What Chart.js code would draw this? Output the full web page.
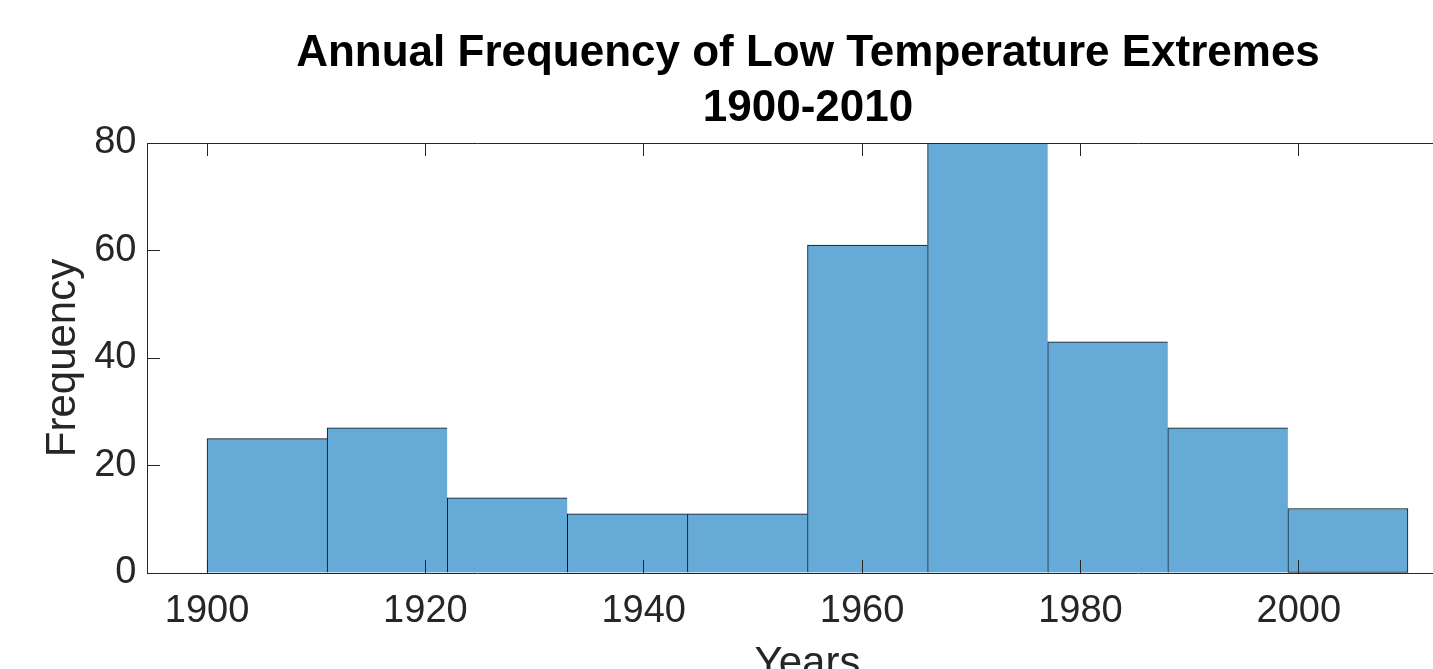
<!DOCTYPE html>
<html>
<head>
<meta charset="utf-8">
<title>Annual Frequency of Low Temperature Extremes</title>
<script src="https://cdn.jsdelivr.net/npm/chart.js@4.4.1/dist/chart.umd.min.js"></script>
<style>
  html, body { margin: 0; padding: 0; background: #fff; overflow: hidden; }
  #wrap { width: 1616px; height: 720px; }
</style>
</head>
<body>
<div id="wrap"><canvas id="hist"></canvas></div>
<script>
// histogram bins (left edges, 11-year bins) and counts
const binStarts = [1900, 1911, 1922, 1933, 1944, 1955, 1966, 1977, 1988, 1999];
const binWidth = 11;
const counts = [25, 27, 14, 11, 11, 61, 80, 43, 27, 12];

// axis ranges / ticks
const xRange = [1894.5, 2015.5];
const xTickStep = 20;
const yRange = [0, 80];
const yTickStep = 20;

const titleLines = ['Annual Frequency of Low Temperature Extremes', '1900-2010'];
const xLabel = 'Years';
const yLabel = 'Frequency';

const axisColor = '#262626';
const fontFamily = '"Liberation Sans", Arial, Helvetica, sans-serif';

// inward tick marks, drawn above the bars like MATLAB
function boxAxis(extra) {
  return Object.assign({
    offset: false,
    grid: { offset: false, drawOnChartArea: false, drawTicks: true, tickLength: -13, color: axisColor, lineWidth: 1, z: 1 },
    border: { display: true, color: axisColor, width: 1, z: 1 }
  }, extra);
}

const ctx = document.getElementById('hist').getContext('2d');
new Chart(ctx, {
  type: 'bar',
  data: {
    datasets: [{
      data: binStarts.map((s, i) => ({ x: s + binWidth / 2, y: counts[i] })),
      backgroundColor: 'rgb(102,170,215)',
      borderColor: '#111',
      borderWidth: (c) => c.dataIndex === counts.length - 1 ? 1 : { top: 1, left: 1, right: 0, bottom: 0 },
      borderSkipped: false,
      barPercentage: 1,
      categoryPercentage: 1
    }]
  },
  options: {
    responsive: true,
    maintainAspectRatio: false,
    animation: false,
    layout: { padding: 0 },
    plugins: {
      legend: { display: false },
      tooltip: { enabled: false },
      title: {
        display: true,
        text: titleLines,
        color: '#000',
        font: { family: fontFamily, size: 44, weight: 'bold', lineHeight: 1.25 },
        padding: { top: 26, bottom: 0 }
      }
    },
    scales: {
      x: boxAxis({
        type: 'linear',
        position: 'bottom',
        min: xRange[0],
        max: xRange[1],
        afterFit: (s) => { s.height = 147; },
        ticks: {
          stepSize: xTickStep,
          includeBounds: false,
          autoSkip: false,
          maxRotation: 0,
          padding: 29,
          color: axisColor,
          font: { family: fontFamily, size: 38, lineHeight: 1.2 },
          callback: (v) => String(v)
        },
        title: {
          display: true,
          text: xLabel,
          color: axisColor,
          font: { family: fontFamily, size: 42, lineHeight: 1.2 },
          padding: { top: 0, bottom: 30 }
        }
      }),
      x2: boxAxis({
        type: 'linear',
        position: 'top',
        min: xRange[0],
        max: xRange[1],
        afterFit: (s) => { s.height = 7; },
        ticks: { display: false, stepSize: xTickStep, includeBounds: false, autoSkip: false }
      }),
      y: boxAxis({
        type: 'linear',
        position: 'left',
        min: yRange[0],
        max: yRange[1],
        afterFit: (s) => { s.width = 147; },
        ticks: {
          stepSize: yTickStep,
          padding: 23.5,
          color: axisColor,
          font: { family: fontFamily, size: 38, lineHeight: 1.2 }
        },
        title: {
          display: true,
          text: yLabel,
          color: axisColor,
          font: { family: fontFamily, size: 42, lineHeight: 1.2 },
          padding: { top: 38, bottom: 0 }
        }
      }),
      y2: boxAxis({
        type: 'linear',
        position: 'right',
        min: yRange[0],
        max: yRange[1],
        afterFit: (s) => { s.width = 148; },
        ticks: { display: false, stepSize: yTickStep }
      })
    }
  }
});
</script>
</body>
</html>
